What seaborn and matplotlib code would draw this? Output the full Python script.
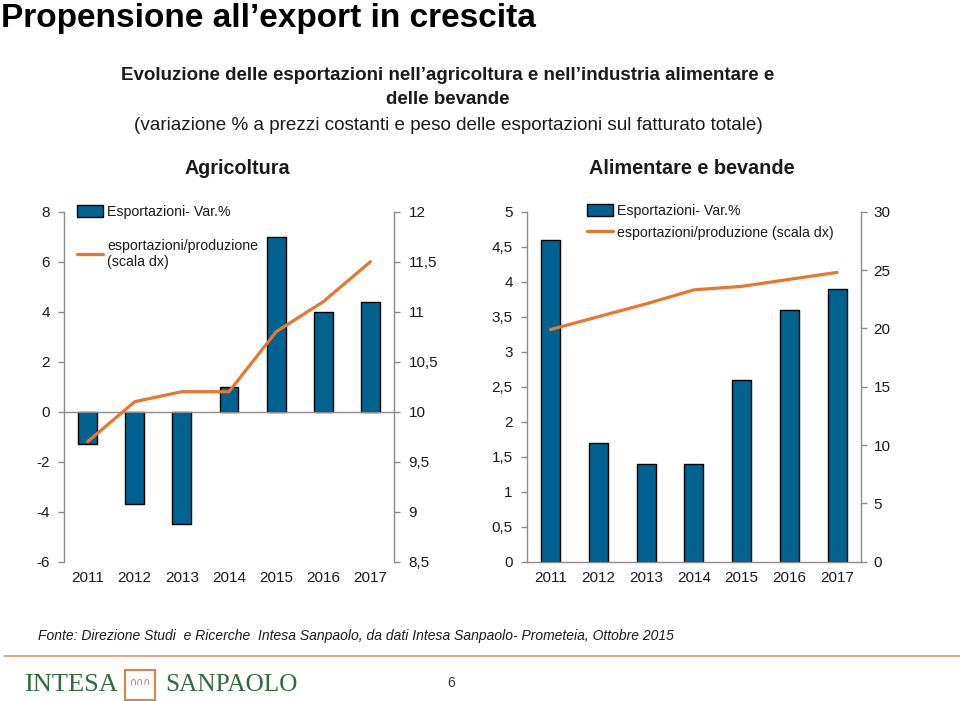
import numpy as np
import matplotlib
matplotlib.use('Agg')
import matplotlib.pyplot as plt
import matplotlib.patches as mpatches
from matplotlib.ticker import FuncFormatter, MultipleLocator
import seaborn as sns

# ---- data ----
years = ['2011', '2012', '2013', '2014', '2015', '2016', '2017']

# Agricoltura
agri_export_var = [-1.3, -3.7, -4.5, 1.0, 7.0, 4.0, 4.4]      # Esportazioni - Var.%
agri_export_share = [9.7, 10.1, 10.2, 10.2, 10.8, 11.1, 11.5]  # esportazioni/produzione (dx)

# Alimentare e bevande
food_export_var = [4.6, 1.7, 1.4, 1.4, 2.6, 3.6, 3.9]
food_export_share = [19.9, 21.0, 22.1, 23.3, 23.6, 24.2, 24.8]

bar_label = 'Esportazioni- Var.%'
line_label_agri = 'esportazioni/produzione\n(scala dx)'
line_label_food = 'esportazioni/produzione (scala dx)'

BAR_COLOR = '#00628E'
LINE_COLOR = '#E8772E'
SPINE_COLOR = '#8C8C8C'
TEXT_COLOR = '#1A1A1A'

sns.set_style('white')
plt.rcParams['font.family'] = ['Liberation Sans', 'DejaVu Sans']

W, H = 960, 701
fig = plt.figure(figsize=(W / 100, H / 100), dpi=100)


def px(x, y):
    # pixel position (from top-left) -> figure fraction
    return x / W, 1 - y / H


def comma_fmt(v, pos):
    s = f'{v:g}'
    return s.replace('.', ',')


def draw_panel(left, right, top, bottom, bars, line, line_label,
               ylim_l, step_l, ylim_r, step_r, zero_axis, leg_anchor, leg_spacing,
               pad_r):
    rect = [left / W, 1 - bottom / H, (right - left) / W, (bottom - top) / H]
    ax = fig.add_axes(rect)
    sns.barplot(x=years, y=bars, ax=ax, color=BAR_COLOR, saturation=1,
                width=0.4, edgecolor='black', linewidth=1, label=bar_label)
    ax.set_xlim(-0.5, len(years) - 0.5)
    ax.set_ylim(*ylim_l)
    ax.yaxis.set_major_locator(MultipleLocator(step_l))
    ax.yaxis.set_major_formatter(FuncFormatter(comma_fmt))
    ax.set_xlabel('')
    ax.set_ylabel('')

    ax2 = ax.twinx()
    sns.lineplot(x=np.arange(len(years)), y=line, ax=ax2, color=LINE_COLOR,
                 linewidth=2.3, label=line_label)
    ax2.set_ylim(*ylim_r)
    ax2.yaxis.set_major_locator(MultipleLocator(step_r))
    ax2.yaxis.set_major_formatter(FuncFormatter(comma_fmt))
    ax2.set_ylabel('')

    for a in (ax, ax2):
        for s in a.spines.values():
            s.set_visible(False)
            s.set_color(SPINE_COLOR)
            s.set_linewidth(1)
    ax.spines['left'].set_visible(True)
    ax.spines['bottom'].set_visible(True)
    ax2.spines['right'].set_visible(True)

    ax.tick_params(axis='y', direction='out', length=4, width=1, color=SPINE_COLOR,
                   labelsize=11, labelcolor=TEXT_COLOR, pad=6)
    ax2.tick_params(axis='y', direction='out', length=4, width=1, color=SPINE_COLOR,
                    labelsize=11, labelcolor=TEXT_COLOR, pad=pad_r)

    # category boundary ticks on the x axis line
    ax.set_xticks(np.arange(-0.5, len(years)), minor=True)
    ax.tick_params(axis='x', which='minor', direction='out', length=4, width=1,
                   color=SPINE_COLOR)
    axis_h = bottom - top
    if zero_axis:
        ax.spines['bottom'].set_position(('data', 0))
        gap = (0 - ylim_l[0]) / (ylim_l[1] - ylim_l[0]) * axis_h
    else:
        gap = 0
    ax.tick_params(axis='x', which='major', length=0, labelsize=11,
                   labelcolor=TEXT_COLOR, pad=(gap + 9) * 0.72)

    handles = [ax.patches[0], ax2.get_lines()[0]]
    labels = [bar_label, line_label]
    if ax2.get_legend() is not None:
        ax2.get_legend().remove()
    if ax.get_legend() is not None:
        ax.get_legend().remove()
    ax2.legend(handles, labels, loc='upper left', bbox_to_anchor=leg_anchor,
               frameon=False, fontsize=10.2, handlelength=1.85, handleheight=0.9,
               handletextpad=0.3, borderpad=0, borderaxespad=0,
               labelspacing=leg_spacing, labelcolor=TEXT_COLOR)
    return ax, ax2


# Agricoltura panel
draw_panel(64, 394, 211.7, 561.7, agri_export_var, agri_export_share, line_label_agri,
           (-6, 8), 2, (8.5, 12), 0.5, True, (13 / 330, 1.02), 1.45, 6.5)
# Alimentare e bevande panel
draw_panel(526.7, 861, 211.7, 561.7, food_export_var, food_export_share, line_label_food,
           (0, 5), 0.5, (0, 30), 5, False, (60 / 334, 1.022), 0.55, 5)

# ---- slide texts ----
fig.text(*px(1, 19), 'Propensione all’export in crescita', fontsize=24,
         fontweight='bold', color='black', ha='left', va='center')
fig.text(*px(448, 76), 'Evoluzione delle esportazioni nell’agricoltura e nell’industria alimentare e',
         fontsize=13.5, fontweight='bold', color=TEXT_COLOR, ha='center', va='center')
fig.text(*px(448, 100), 'delle bevande', fontsize=13.5, fontweight='bold',
         color=TEXT_COLOR, ha='center', va='center')
fig.text(*px(448, 125), '(variazione % a prezzi costanti e peso delle esportazioni sul fatturato totale)',
         fontsize=13.6, color=TEXT_COLOR, ha='center', va='center')
fig.text(*px(237, 169), 'Agricoltura', fontsize=14.2, fontweight='bold',
         color=TEXT_COLOR, ha='center', va='center')
fig.text(*px(692, 169), 'Alimentare e bevande', fontsize=14.3, fontweight='bold',
         color=TEXT_COLOR, ha='center', va='center')

fig.text(*px(38, 636), 'Fonte: Direzione Studi  e Ricerche  Intesa Sanpaolo, da dati Intesa Sanpaolo- Prometeia, Ottobre 2015',
         fontsize=10, fontstyle='italic', color=TEXT_COLOR, ha='left', va='center')

# footer rule, logo and page number
fig.add_artist(plt.Line2D([4 / W, 1], [1 - 656 / H] * 2, color='#E39A66', linewidth=1.2))
fig.text(*px(24, 685), 'INTESA', family='Liberation Serif', fontsize=19,
         color='#2F6B3B', ha='left', va='center')
fig.text(*px(165, 685), 'SANPAOLO', family='Liberation Serif', fontsize=18.2,
         color='#2F6B3B', ha='left', va='center')
fig.add_artist(mpatches.Rectangle(px(125, 700), 30 / W, 30 / H, transform=fig.transFigure,
                                  facecolor='white', edgecolor='#D9844C', linewidth=1.5))
fig.text(*px(140, 682), '∩∩∩', family='DejaVu Sans', fontsize=7,
         color='#B07050', ha='center', va='center')
fig.text(*px(451, 683), '6', fontsize=10, color='#333333', ha='center', va='center')

fig.savefig('out.png', dpi=100)
